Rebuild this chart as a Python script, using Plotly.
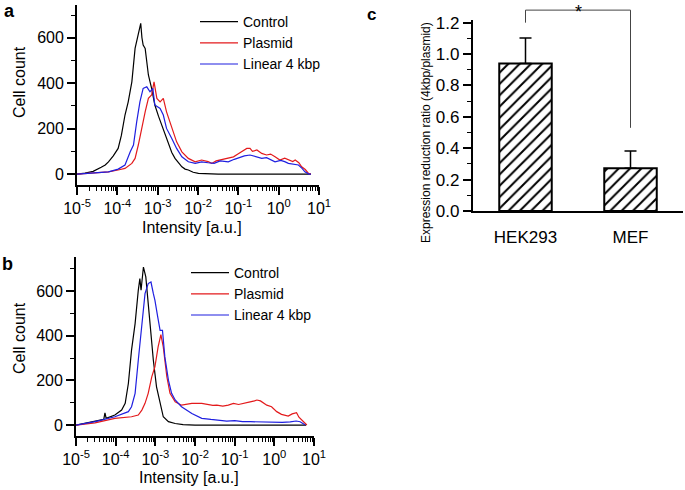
import numpy as np
import plotly.graph_objects as go

# ---------------- Data ----------------
# Panel a (log10 intensity, cell count)
a_control_logx = [-5.0, -4.8, -4.6, -4.48, -4.4, -4.3, -4.22, -4.1, -3.98, -3.9, -3.81, -3.73, -3.64, -3.56, -3.48,
                  -3.44, -3.42, -3.39, -3.36, -3.31, -3.27, -3.23, -3.15, -3.07, -2.98, -2.90, -2.82, -2.73, -2.65,
                  -2.57, -2.48, -2.40, -2.32, -2.24, -2.12, -1.99, -1.5, -1.0, -0.5, 0.0, 0.5, 0.8]
a_control_y = [0, 4, 12, 25, 30, 40, 54, 80, 113, 170, 260, 318, 406, 553, 612,
               640, 663, 600, 568, 553, 500, 436, 377, 304, 255, 216, 170, 128, 95,
               69, 48, 32, 22, 18, 8, 3, 0, 0, 0, 0, 0, 0]

a_plasmid_logx = [-5.0, -4.7, -4.5, -4.22, -3.98, -3.81, -3.64, -3.56, -3.48, -3.40, -3.31, -3.23, -3.15, -3.09,
                  -3.02, -2.94, -2.86, -2.78, -2.72, -2.65, -2.53, -2.40, -2.24, -2.07, -1.91, -1.75, -1.66, -1.55,
                  -1.45, -1.35, -1.25, -1.12, -1.0, -0.92, -0.85, -0.79, -0.71, -0.65, -0.54, -0.42, -0.30, -0.2,
                  -0.09, 0.03, 0.15, 0.24, 0.35, 0.41, 0.50, 0.57, 0.66, 0.74, 0.80]
a_plasmid_y = [0, 3, 6, 10, 18, 25, 47, 69, 128, 201, 274, 333, 348, 406,
               333, 318, 333, 274, 240, 201, 142, 98, 69, 54, 62, 55, 47, 58,
               62, 66, 69, 76, 90, 98, 105, 113, 113, 100, 106, 91, 84, 88,
               76, 62, 70, 62, 55, 62, 50, 32, 20, 3, 0]

a_linear_logx = [-5.0, -4.7, -4.5, -4.22, -3.98, -3.81, -3.68, -3.60, -3.52, -3.44, -3.36, -3.27, -3.19, -3.12,
                 -3.07, -2.94, -2.86, -2.78, -2.65, -2.53, -2.40, -2.24, -2.07, -1.91, -1.75, -1.6, -1.45, -1.25,
                 -1.1, -0.95, -0.85, -0.71, -0.6, -0.42, -0.3, -0.2, -0.09, 0.05, 0.15, 0.24, 0.35, 0.49, 0.58,
                 0.65, 0.75, 0.80]
a_linear_y = [0, 4, 7, 10, 22, 40, 98, 128, 230, 318, 377, 384, 362, 377,
              304, 289, 260, 201, 157, 113, 76, 54, 47, 54, 50, 47, 58, 54,
              65, 76, 80, 84, 78, 69, 72, 65, 54, 60, 55, 47, 45, 40, 25,
              10, 0, 0]

# Panel b
b_control_logx = [-5.0, -4.52, -4.3, -4.27, -4.24, -4.02, -3.85, -3.76, -3.68, -3.60, -3.51, -3.43, -3.39, -3.36,
                  -3.30, -3.24, -3.18, -3.11, -3.05, -2.97, -2.88, -2.80, -2.67, -2.50, -2.3, -2.0, -1.0, 0.0, 0.8]
b_control_y = [0, 15, 25, 55, 30, 45, 67, 97, 186, 335, 454, 603, 655, 603,
               707, 663, 544, 394, 290, 171, 97, 37, 15, 7, 2, 0, 0, 0, 0]

b_plasmid_logx = [-5.0, -4.52, -4.02, -3.60, -3.43, -3.34, -3.26, -3.18, -3.09, -3.01, -2.93, -2.86, -2.80, -2.71,
                  -2.63, -2.50, -2.34, -2.08, -1.83, -1.7, -1.55, -1.45, -1.3, -1.16, -1.03, -0.9, -0.75, -0.61,
                  -0.5, -0.44, -0.35, -0.25, -0.19, -0.07, 0.06, 0.18, 0.27, 0.35, 0.45, 0.56, 0.62, 0.69, 0.76,
                  0.82]
b_plasmid_y = [0, 10, 30, 37, 45, 67, 97, 142, 216, 261, 350, 405, 350, 216,
               142, 104, 89, 97, 97, 92, 88, 89, 85, 89, 97, 92, 100, 104,
               108, 112, 108, 98, 89, 82, 60, 48, 45, 40, 50, 55, 35, 22, 8,
               0]

b_linear_logx = [-5.0, -4.52, -4.02, -3.81, -3.68, -3.60, -3.51, -3.43, -3.34, -3.26, -3.18, -3.11, -3.05, -3.01,
                 -2.94, -2.88, -2.82, -2.76, -2.67, -2.59, -2.50, -2.34, -2.08, -1.83, -1.6, -1.4, -1.2, -1.0,
                 -0.8, -0.6, -0.4, -0.2, 0.0, 0.2, 0.4, 0.55, 0.65, 0.72, 0.78]
b_linear_y = [0, 15, 37, 52, 60, 82, 142, 290, 439, 588, 633, 640, 588, 558,
              484, 424, 424, 305, 201, 142, 112, 82, 52, 30, 25, 22, 18, 20,
              15, 15, 14, 13, 12, 12, 14, 18, 15, 8, 0]

series_names = ["Control", "Plasmid", "Linear 4 kbp"]
series_colors = ["#000000", "#e31a1c", "#1f1fe0"]

x_exponents = [-5, -4, -3, -2, -1, 0, 1]
x_ticklabels = ["10<sup>-5</sup>", "10<sup>-4</sup>", "10<sup>-3</sup>", "10<sup>-2</sup>",
                "10<sup>-1</sup>", "10<sup>0</sup>", "10<sup>1</sup>"]
y_tickvals = [0, 200, 400, 600]

# Panel c
cell_lines = ["HEK293", "MEF"]
ratio_mean = [0.94, 0.272]
ratio_err = [0.163, 0.11]
bracket_top = 1.28
bracket_left_bottom = 1.2
bracket_right_bottom = 0.53
c_tickvals = [0.0, 0.2, 0.4, 0.6, 0.8, 1.0, 1.2]

FONT = "Arial, Liberation Sans, sans-serif"
W, H = 685, 490

fig = go.Figure()

def add_panel(xs_list, ys_list, xa, ya, legend):
    for name, color, lx, yv in zip(series_names, series_colors, xs_list, ys_list):
        fig.add_trace(go.Scatter(
            x=np.power(10.0, np.array(lx)), y=yv, mode="lines", name=name,
            line=dict(color=color, width=1.2), xaxis=xa, yaxis=ya,
            legend=legend, showlegend=True))

add_panel([a_control_logx, a_plasmid_logx, a_linear_logx],
          [a_control_y, a_plasmid_y, a_linear_y], "x", "y", "legend")
add_panel([b_control_logx, b_plasmid_logx, b_linear_logx],
          [b_control_y, b_plasmid_y, b_linear_y], "x2", "y2", "legend2")

fig.add_trace(go.Bar(
    x=cell_lines, y=ratio_mean, xaxis="x3", yaxis="y3", showlegend=False,
    width=0.5,
    marker=dict(color="white", line=dict(color="black", width=2),
                pattern=dict(shape="/", fgcolor="black", bgcolor="white", size=8,
                             solidity=0.25, fgopacity=1)),
    error_y=dict(type="data", array=ratio_err, arrayminus=[0, 0], symmetric=False,
                 color="black", thickness=1.5, width=6)))

# significance bracket on an overlay axis sharing panel c's scale
fig.add_trace(go.Scatter(
    x=[cell_lines[0], cell_lines[0], cell_lines[1], cell_lines[1]],
    y=[bracket_left_bottom, bracket_top, bracket_top, bracket_right_bottom],
    mode="lines", line=dict(color="#444444", width=1), xaxis="x3", yaxis="y4",
    showlegend=False, hoverinfo="skip"))

def px_x(p):
    return p / W

def px_y(p):
    return 1 - p / H

x_tickvals = [10.0 ** e for e in x_exponents]
x_minor_vals = [m * 10.0 ** e for e in x_exponents[:-1] for m in range(2, 10)]

tickfont = dict(family=FONT, size=16, color="black")
common_x = dict(type="log", range=[-5, 1], tickmode="array", tickvals=x_tickvals,
                ticktext=x_ticklabels, tickangle=0,
                showline=True, linecolor="black", linewidth=1.8, ticks="outside", ticklen=8,
                tickwidth=1.8, tickcolor="black", showgrid=False, zeroline=False,
                tickfont=tickfont,
                minor=dict(ticks="outside", ticklen=4, tickwidth=1.2, tickcolor="black",
                           tickmode="array", tickvals=x_minor_vals, showgrid=False))
common_y = dict(showline=True, linecolor="black", linewidth=1.8, ticks="outside", ticklen=8,
                tickwidth=1.8, tickcolor="black", showgrid=False, zeroline=False,
                tickvals=y_tickvals, tickfont=tickfont,
                minor=dict(ticks="outside", ticklen=4, tickwidth=1.2, tickcolor="black",
                           dtick=100, showgrid=False))

# panel c vertical geometry
c_bottom_px, c_top_px = 211, 20
c_range_top = 1.217
c_dom = [px_y(c_bottom_px), px_y(c_top_px)]
ext_dom = [px_y(c_bottom_px), 1.0]
ext_range_top = c_range_top * (ext_dom[1] - ext_dom[0]) / (c_dom[1] - c_dom[0])

legend_font = dict(family=FONT, size=14, color="black")
fig.update_layout(
    width=W, height=H, margin=dict(l=0, r=0, t=0, b=0, autoexpand=False),
    paper_bgcolor="white", plot_bgcolor="rgba(0,0,0,0)",
    font=dict(family=FONT, color="black"),
    bargap=0.5,
    xaxis=dict(domain=[px_x(77), px_x(319)], anchor="y", **common_x),
    yaxis=dict(domain=[px_y(185), px_y(5)], anchor="x", range=[-48, 744], **common_y),
    xaxis2=dict(domain=[px_x(76), px_x(314)], anchor="y2", **common_x),
    yaxis2=dict(domain=[px_y(436), px_y(257)], anchor="x2", range=[-49, 752], **common_y),
    xaxis3=dict(domain=[px_x(473), px_x(683)], anchor="y3", type="category",
                range=[-0.5, 1.5], showline=True, linecolor="black", linewidth=2.2,
                ticks="", showgrid=False, zeroline=False, ticklabelstandoff=9,
                tickfont=dict(family=FONT, size=17, color="black")),
    yaxis3=dict(domain=c_dom, anchor="x3", range=[0, c_range_top], tickvals=c_tickvals,
                tickformat=".1f", showline=True, linecolor="black", linewidth=2.2,
                ticks="outside", ticklen=8, tickwidth=2, tickcolor="black",
                showgrid=False, zeroline=False,
                tickfont=dict(family=FONT, size=17, color="black"),
                minor=dict(ticks="outside", ticklen=4, tickwidth=1.2, tickcolor="black",
                           dtick=0.1, showgrid=False)),
    yaxis4=dict(domain=ext_dom, anchor="x3", range=[0, ext_range_top], visible=False,
                showgrid=False, zeroline=False),
    legend=dict(x=px_x(195), y=px_y(6), xanchor="left", yanchor="top",
                bgcolor="rgba(0,0,0,0)", font=legend_font,
                itemwidth=38, tracegroupgap=0),
    legend2=dict(x=px_x(186), y=px_y(257), xanchor="left", yanchor="top",
                 bgcolor="rgba(0,0,0,0)", font=legend_font,
                 itemwidth=38, tracegroupgap=0),
)

ann = []
def label(text, x, y, size, angle=0, bold=False, xref="paper", yref="paper"):
    ann.append(dict(text=("<b>%s</b>" % text) if bold else text, x=x, y=y, xref=xref, yref=yref,
                    showarrow=False, textangle=angle, xanchor="center", yanchor="middle",
                    font=dict(family=FONT, size=size, color="black")))

label("a", px_x(9), px_y(11), 18, bold=True)
label("b", px_x(8), px_y(264), 18, bold=True)
label("c", px_x(371), px_y(14), 17, bold=True)
label("Cell count", px_x(19), px_y(82), 16, angle=-90)
label("Cell count", px_x(19), px_y(338), 16, angle=-90)
label("Intensity [a.u.]", px_x(192), px_y(227), 16)
label("Intensity [a.u.]", px_x(189), px_y(477), 16)
label("Expression reduction ratio (4kbp/plasmid)", px_x(426), px_y(132), 12, angle=-90)
ann.append(dict(text="*", x=0.5, y=1.0, xref="x3", yref="paper", showarrow=False,
                yanchor="top", font=dict(family=FONT, size=18, color="black")))
fig.update_layout(annotations=ann)

fig.write_html("out.html", config={"displayModeBar": False},
               post_script="document.body.style.margin='0px';")
